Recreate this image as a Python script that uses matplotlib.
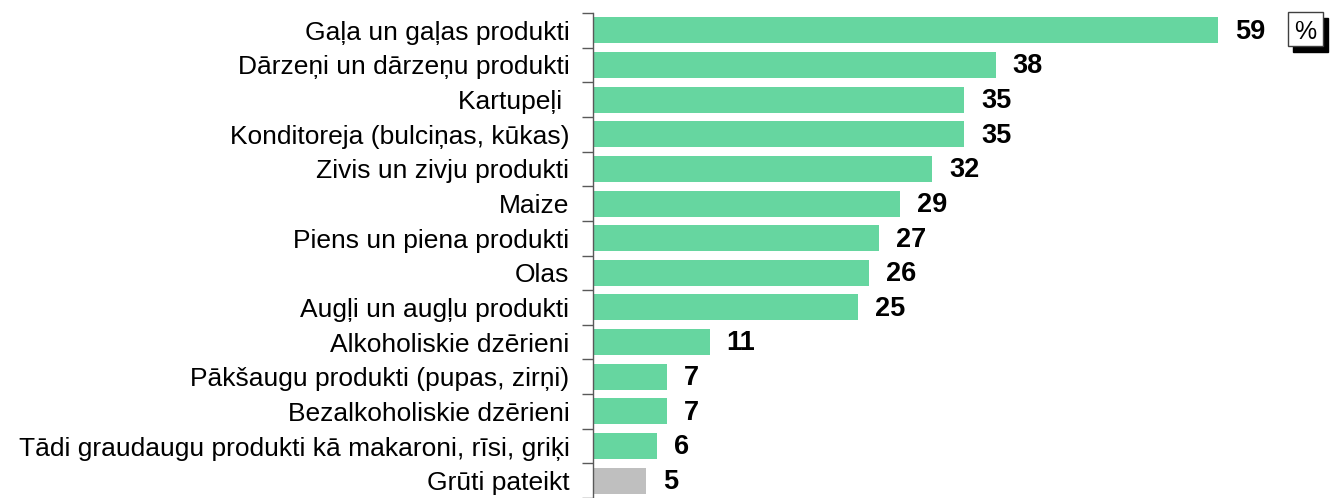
import numpy as np
import matplotlib.pyplot as plt
from matplotlib.patches import Rectangle

plt.rcParams['font.family'] = ['Liberation Sans', 'DejaVu Sans']

categories = [
    'Gaļa un gaļas produkti',
    'Dārzeņi un dārzeņu produkti',
    'Kartupeļi ',
    'Konditoreja (bulciņas, kūkas)',
    'Zivis un zivju produkti',
    'Maize',
    'Piens un piena produkti',
    'Olas',
    'Augļi un augļu produkti',
    'Alkoholiskie dzērieni',
    'Pākšaugu produkti (pupas, zirņi)',
    'Bezalkoholiskie dzērieni',
    'Tādi graudaugu produkti kā makaroni, rīsi, griķi',
    'Grūti pateikt',
]
values = [59, 38, 35, 35, 32, 29, 27, 26, 25, 11, 7, 7, 6, 5]
# the last row ("hard to say") is shown in grey
colors = ['#66D6A0'] * 13 + ['#BFBFBF']

fig = plt.figure(figsize=(13.37, 4.98), dpi=100)
ax = fig.add_axes([593 / 1337, 0.0, 1 - 593 / 1337, 1 - 13 / 498])

y = np.arange(len(categories))
ax.barh(y, values, height=0.75, color=colors)

for yi, v in zip(y, values):
    ax.text(v + 1.6, yi + 0.04, str(v), va='center', ha='left',
            fontsize=19.5, fontweight='bold', color='black')

ax.set_xlim(0, 70.2)
ax.set_ylim(len(categories) - 0.5, -0.5)

ax.set_yticks(y)
ax.set_yticklabels(categories, fontsize=19)
ax.set_yticks(np.arange(len(categories) + 1) - 0.5, minor=True)
ax.tick_params(axis='y', which='major', length=0, pad=17)
ax.tick_params(axis='y', which='minor', length=8, width=1, color='#595959', direction='out')
ax.set_xticks([])

for side in ['top', 'right', 'bottom']:
    ax.spines[side].set_visible(False)
ax.spines['left'].set_color('#595959')
ax.spines['left'].set_linewidth(1)

# percent badge with drop shadow
bx, by, bw, bh = 1288 / 1337, 1 - 46 / 498, 35 / 1337, 34 / 498
sx, sy = 5 / 1337, 6 / 498
fig.patches.append(Rectangle((bx + sx, by - sy), bw, bh, transform=fig.transFigure,
                             facecolor='black', edgecolor='black', zorder=5))
fig.patches.append(Rectangle((bx, by), bw, bh, transform=fig.transFigure,
                             facecolor='white', edgecolor='#404040', linewidth=1, zorder=6))
fig.text(bx + bw / 2, by + bh * 0.5, '%', ha='center', va='center_baseline',
         fontsize=18, zorder=7)

fig.savefig('out.png', dpi=100)
